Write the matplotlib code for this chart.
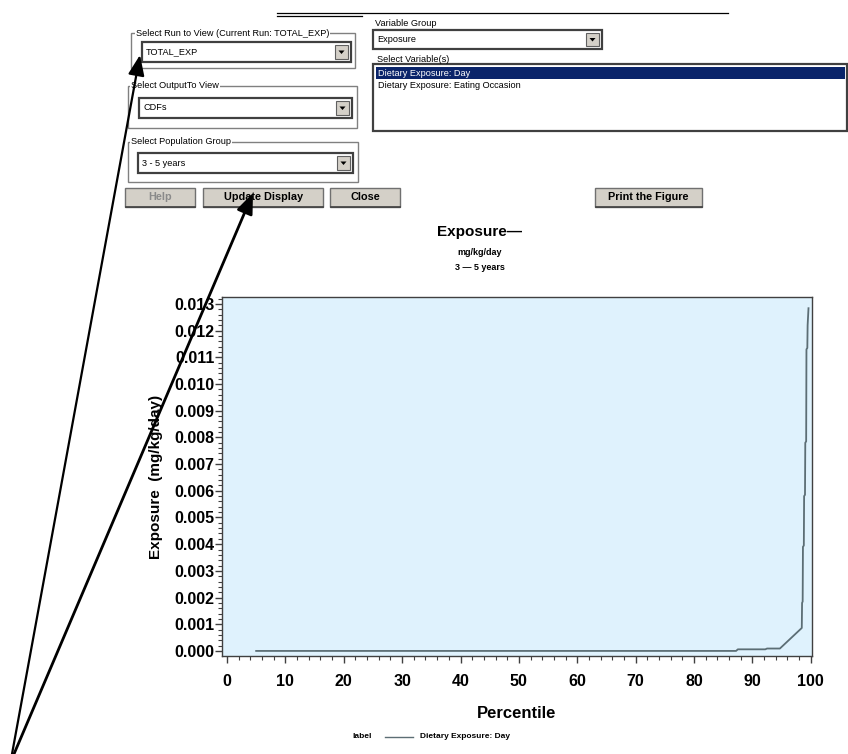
"""
plot.py: screenshot-style recreation of the exposure CDF viewer.
"""
import matplotlib

matplotlib.use("Agg")

import matplotlib.pyplot as plt
from matplotlib.lines import Line2D
from matplotlib.patches import Rectangle, Polygon, FancyArrowPatch
from matplotlib.ticker import MultipleLocator, FormatStrFormatter

# --------------------------------------------------------------------------- #
# Data
# --------------------------------------------------------------------------- #
percentile = [5, 10, 15, 20, 25, 30, 35, 40, 45, 50, 55, 60, 65, 70, 75, 80,
              85, 87.2, 87.5, 90, 92.2, 92.5, 94.7,
              98.45, 98.5, 98.6, 98.65, 98.8, 98.85, 99.0, 99.05, 99.2,
              99.25, 99.4, 99.45, 99.6]
exposure = [0.00000, 0.00000, 0.00000, 0.00000, 0.00000, 0.00000, 0.00000,
            0.00000, 0.00000, 0.00000, 0.00000, 0.00000, 0.00000, 0.00000,
            0.00000, 0.00000, 0.00000, 0.00000, 0.00006, 0.00006, 0.00006,
            0.00009, 0.00009,
            0.00086, 0.00180, 0.00185, 0.00390, 0.00395, 0.00580, 0.00585,
            0.00780, 0.00785, 0.01130, 0.01135, 0.01220, 0.01284]
series_label = "Dietary Exposure: Day"
y_ticks = [i / 1000 for i in range(0, 14)]
x_ticks = list(range(0, 101, 10))

W, H = 848, 754
fig = plt.figure(figsize=(W / 100, H / 100), dpi=100)
fig.patch.set_facecolor("white")
FONT = ["Liberation Sans", "DejaVu Sans"]


def fx(x):
    return x / W


def fy(y):
    return 1 - y / H


def rect(x0, y0, x1, y1, fc="white", ec="#808080", lw=1.0, z=1):
    fig.add_artist(Rectangle((fx(x0), fy(y1)), fx(x1) - fx(x0), fy(y0) - fy(y1),
                             transform=fig.transFigure, facecolor=fc,
                             edgecolor=ec, linewidth=lw, zorder=z))


def hline(x0, x1, y, color="black", lw=1.0, z=2):
    fig.add_artist(Line2D([fx(x0), fx(x1)], [fy(y), fy(y)], transform=fig.transFigure,
                          color=color, linewidth=lw, zorder=z))


def text(x, y, s, size=6.5, weight="normal", color="black", ha="left", z=5):
    fig.text(fx(x), fy(y), s, fontsize=size, fontweight=weight, color=color,
             ha=ha, va="center", family=FONT, zorder=z)


def group(x0, y0, x1, y1, label, lx):
    rect(x0, y0, x1, y1, fc="none", ec="#808080", lw=1.0)
    fig.text(fx(lx), fy(y0), label, fontsize=6.6, ha="left", va="center",
             family=FONT, zorder=5,
             bbox=dict(facecolor="white", edgecolor="none", pad=0.6))


def combo(x0, y0, x1, y1, value):
    rect(x0, y0, x1, y1, fc="white", ec="#404040", lw=1.6)
    bx0 = x1 - 16
    rect(bx0, y0 + 3, x1 - 3, y1 - 3, fc="#d4d0c8", ec="#606060", lw=0.8)
    cx, cy = (bx0 + x1 - 3) / 2, (y0 + y1) / 2
    fig.add_artist(Polygon([(fx(cx - 3), fy(cy - 1.5)), (fx(cx + 3), fy(cy - 1.5)),
                            (fx(cx), fy(cy + 2))], closed=True,
                           transform=fig.transFigure, facecolor="black",
                           edgecolor="none", zorder=3))
    text(x0 + 4, (y0 + y1) / 2, value, size=6.6)


def button(x0, y0, x1, y1, label, color="black"):
    rect(x0, y0, x1, y1, fc="#d4d0c8", ec="#707070", lw=1.0)
    hline(x0 + 1, x1, y1, color="#404040", lw=1.2)
    text((x0 + x1) / 2, (y0 + y1) / 2, label, size=7.8, weight="bold",
         color=color, ha="center")


# --------------------------------------------------------------------------- #
# GUI controls above the chart
# --------------------------------------------------------------------------- #
hline(277, 728, 12.5, lw=0.9)
hline(277, 362, 15.5, lw=0.9)

group(131, 33, 355, 68, "Select Run to View (Current Run: TOTAL_EXP)", 136)
combo(142, 42, 351, 62, "TOTAL_EXP")
group(128, 86, 357, 128, "Select OutputTo View", 131)
combo(139, 98, 352, 118, "CDFs")
group(128, 142, 358, 182, "Select Population Group", 131)
combo(138, 153, 353, 173, "3 - 5 years")

button(125, 188, 195, 207, "Help", color="#8a8a8a")
button(203, 188, 323, 207, "Update Display")
button(330, 188, 400, 207, "Close")
button(595, 188, 702, 207, "Print the Figure")

text(375, 24, "Variable Group", size=6.6)
hline(375, 439, 29, color="#404040", lw=0.8)
combo(373, 30, 602, 49, "Exposure")
text(377, 59, "Select Variable(s)", size=6.6)
rect(373, 64, 847, 131, fc="white", ec="#404040", lw=1.6)
rect(376, 67, 845, 79, fc="#0a246a", ec="none", lw=0, z=2)
text(378, 73, "Dietary Exposure: Day", size=6.6, color="white")
text(378, 86, "Dietary Exposure: Eating Occasion", size=6.6)

# --------------------------------------------------------------------------- #
# Chart
# --------------------------------------------------------------------------- #
text(480, 232, "Exposure\u2014", size=11, weight="bold", ha="center")
text(480, 252, "mg/kg/day", size=6.5, weight="bold", ha="center")
text(480, 268, "3 \u2014 5 years", size=6.5, weight="bold", ha="center")

ax = fig.add_axes([fx(222), fy(656), fx(812) - fx(222), fy(297) - fy(656)])
ax.set_facecolor("#dff2fd")
ax.plot(percentile, exposure, color="#5c6e75", linewidth=1.3)
ax.set_xlim(-0.85, 100.2)
ax.set_ylim(-0.00019, 0.01326)
ax.set_xticks(x_ticks)
ax.set_yticks(y_ticks)
ax.xaxis.set_minor_locator(MultipleLocator(2))
ax.yaxis.set_minor_locator(MultipleLocator(0.0002))
ax.yaxis.set_major_formatter(FormatStrFormatter("%.3f"))
for s in ax.spines.values():
    s.set_color("#404040")
    s.set_linewidth(1.0)
ax.tick_params(which="major", direction="out", length=5, width=1, color="#404040",
               labelsize=11.5)
ax.tick_params(axis="y", which="major", pad=0.5)
ax.tick_params(axis="x", which="major", pad=8)
ax.tick_params(which="minor", direction="out", length=3, width=0.8, color="#404040")
for lab in ax.get_xticklabels() + ax.get_yticklabels():
    lab.set_fontweight("bold")
    lab.set_family(FONT)
ax.set_xlabel("Percentile", fontsize=12, fontweight="bold", family=FONT, labelpad=12)
ax.set_ylabel("Exposure  (mg/kg/day)", fontsize=11, fontweight="bold", family=FONT,
              labelpad=8)

# legend row
text(362, 737, "label", size=6, weight="bold", ha="center")
hline(385, 413, 737, color="#5c6e75", lw=1.0)
text(420, 737, series_label, size=6, weight="bold")

# --------------------------------------------------------------------------- #
# Callout arrows
# --------------------------------------------------------------------------- #
for (x0, y0), (x1, y1), lw in (((12, 754), (140, 55), 1.6), ((14, 754), (253, 193), 2.0)):
    fig.add_artist(FancyArrowPatch(
        (fx(x0), fy(y0)), (fx(x1), fy(y1)), transform=fig.transFigure,
        arrowstyle="-|>,head_length=0.95,head_width=0.38", mutation_scale=13,
        color="black", linewidth=lw, zorder=10, shrinkA=0, shrinkB=0))

fig.savefig("out.png", dpi=100, facecolor="white")
